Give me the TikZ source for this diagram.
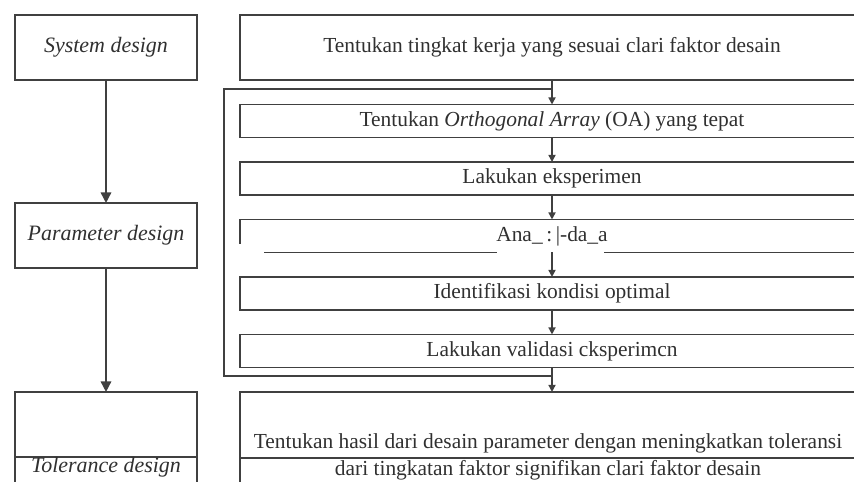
\documentclass[tikz,border=0pt]{standalone}
\usepackage{fontspec}
\setmainfont{Liberation Serif}
\usepackage{xcolor}
\usepackage{tikz}
\usetikzlibrary{arrows.meta,positioning}

\definecolor{linegray}{HTML}{404040}
\definecolor{textgray}{HTML}{303030}
\newcommand{\stepfont}{\fontsize{12.2}{15}\selectfont}
\newcommand{\phasefont}{\fontsize{12.5}{14}\selectfont\itshape}

\begin{document}
\begin{tikzpicture}[
    x=0.02cm, y=-0.02cm,
    node distance=0.49cm,
    wire/.style={draw=linegray, line width=0.9pt},
    phasebox/.style={rectangle, wire, outer sep=0pt, minimum width=3.64cm, minimum height=1.3cm, inner sep=0pt, font=\phasefont, text=textgray},
    stepbox/.style={rectangle, wire, outer sep=0pt, minimum width=12.48cm, minimum height=0.66cm, inner sep=0pt, font=\stepfont, text=textgray},
    arrow/.style={wire, -{Triangle[length=4pt, width=4pt]}},
    bigarrow/.style={wire, -{Triangle[length=6pt, width=6pt]}}
]
\useasboundingbox (0,0) rectangle (854,482);
\clip (0,0) rectangle (854,482);

% left column
\node[phasebox] (system) at (106,47.5) {System design};
\node[phasebox, below=2.46cm of system] (param) {Parameter design};
\node[phasebox, below=2.48cm of param] (tolerance) {};
\node[font=\phasefont, text=textgray] (tollabel) at ([yshift=-0.2cm]tolerance.south) {Tolerance design};
\draw[wire] (tolerance.south west) -- ++(0,30);
\draw[wire] (tolerance.south east) -- ++(0,30);
\draw[bigarrow] (system) -- (param);
\draw[bigarrow] (param) -- (tolerance);

% right column
\node[stepbox, minimum height=1.3cm] (tingkat) at (552,47.5) {Tentukan tingkat kerja yang sesuai clari faktor desain};
\node[stepbox, below=of tingkat] (oa) {Tentukan \textit{Orthogonal Array} (OA) yang tepat};
\node[stepbox, below=of oa] (eksperimen) {Lakukan eksperimen};
\node[stepbox, below=of eksperimen, draw=none] (analisis) {\raisebox{-0.24cm}{Ana\_\,:\,\textbar-da\_a}};
\node[stepbox, below=of analisis] (identifikasi) {Identifikasi kondisi optimal};
\node[stepbox, below=of identifikasi] (validasi) {Lakukan validasi cksperimcn};
\node[stepbox, below=of validasi, minimum height=1.32cm] (hasilbox) {};
\node[font=\stepfont, text=textgray, align=center, inner sep=1pt] (hasil) at ([xshift=-0.08cm, yshift=0.02cm]hasilbox.south)
    {Tentukan hasil dari desain parameter dengan meningkatkan toleransi\\dari tingkatan faktor signifikan clari faktor desain};
\draw[wire] (hasilbox.south west) -- ++(0,30);

% analisis box, broken lines
\draw[wire] (analisis.north west) -- (analisis.north east);
\draw[wire] (analisis.north west) -- ++(0,25);
\draw[wire] (analisis.south west) ++(24,0) -- ++(233,0);
\draw[wire] (analisis.south) ++(52,0) -- (analisis.south east);

% arrows
\draw[arrow] (tingkat) -- (oa);
\draw[arrow] (oa) -- (eksperimen);
\draw[arrow] (eksperimen) -- (analisis);
\draw[arrow] (analisis) -- (identifikasi);
\draw[arrow] (identifikasi) -- (validasi);
\draw[arrow] (validasi) -- (hasilbox);

% feedback loop
\coordinate[below=0.18cm of tingkat.south] (looptop);
\coordinate[below=0.17cm of validasi.south] (loopbot);
\draw[wire] (loopbot) -- ++(-328,0) |- (looptop);
\end{tikzpicture}
\end{document}
